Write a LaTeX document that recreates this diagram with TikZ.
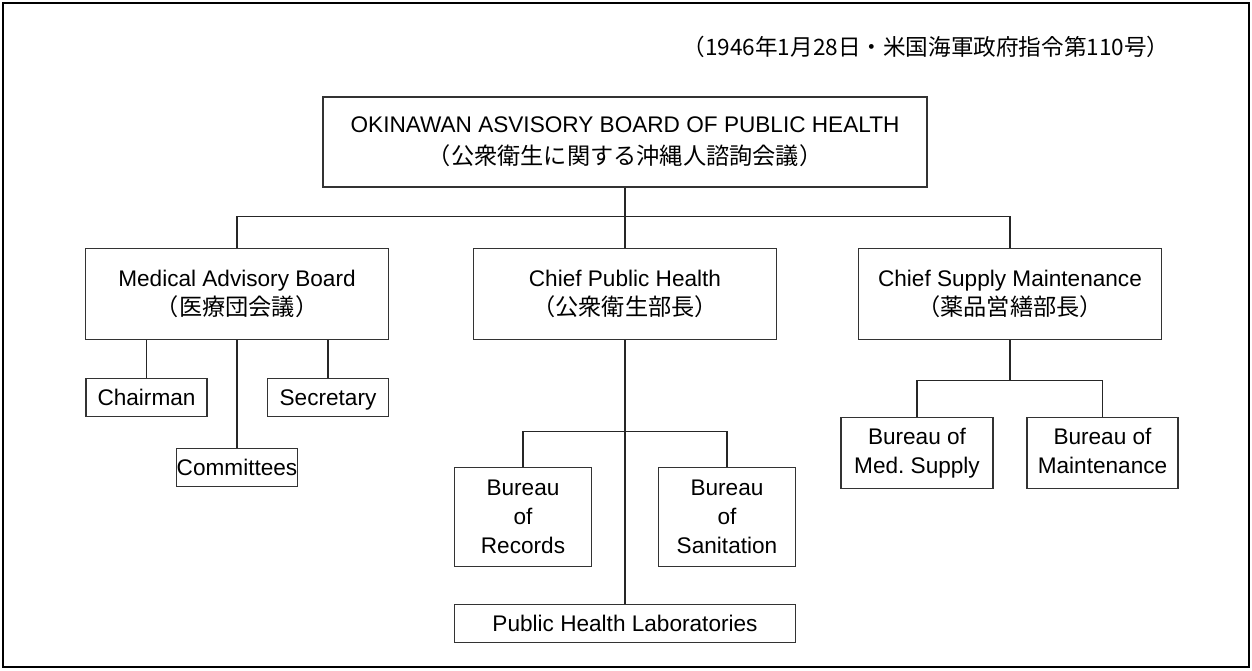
\documentclass[tikz,border=0pt]{standalone}
\usepackage{fontspec}
\setmainfont{Liberation Sans}
\newfontfamily\jpfont{Noto Sans CJK JP}
\usetikzlibrary{positioning}

\begin{document}
\begin{tikzpicture}[
    x=0.5pt, y=-0.5pt,
    node distance=76pt,
    box_head/.style={rectangle, draw=black!80, line width=0.8pt, align=center, inner sep=0pt, font=\fontsize{11.3}{14.5}\selectfont},
    box_main/.style={box_head, minimum width=151.5pt, minimum height=45.5pt},
    box_small/.style={box_head, minimum width=60.5pt, minimum height=19pt, text height=10pt, text depth=2pt},
    box_bureau/.style={box_head, minimum width=68.5pt, minimum height=49.5pt},
    box_supply/.style={box_head, minimum width=75.75pt, minimum height=35.5pt, text depth=2.4pt},
    line_link/.style={draw=black!85, line width=0.6pt},
    ]
\useasboundingbox (0,0) rectangle (1252,670);
\draw[line width=1.2pt] (3,3) rectangle (1249,667);

\node[box_head, minimum width=302pt, minimum height=45pt, font=\fontsize{11.3}{16}\selectfont] (okab) at (625,142) {OKINAWAN ASVISORY BOARD OF PUBLIC HEALTH\\{\jpfont\fontsize{11.6}{16}\selectfont （公衆衛生に関する沖縄人諮詢会議）}};
\node[font=\fontsize{11.3}{14}\selectfont\jpfont, above of=okab, xshift=150.5pt, yshift=-28.5pt] (order) {（1946年1月28日・米国海軍政府指令第110号）};

\node[box_main, below of=okab] (cph) {Chief Public Health\\{\jpfont\fontsize{11.6}{14.5}\selectfont （公衆衛生部長）}};
\node[box_main, left of=cph, xshift=-118pt] (mab) {Medical Advisory Board\\{\jpfont\fontsize{11.6}{14.5}\selectfont （医療団会議）}};
\node[box_main, right of=cph, xshift=116.5pt] (csm) {Chief Supply Maintenance\\{\jpfont\fontsize{11.6}{14.5}\selectfont （薬品営繕部長）}};

\node[box_small, below of=mab, yshift=-10.75pt] (comm) {Committees};
\node[box_small, below of=mab, xshift=-45.25pt, yshift=24.25pt] (chair) {Chairman};
\node[box_small, below of=mab, xshift=45.5pt, yshift=24.25pt] (secr) {Secretary};

\node[box_bureau, below of=cph, xshift=-51pt, yshift=-35.5pt] (rec) {Bureau\\of\\Records};
\node[box_bureau, right of=rec, xshift=26pt] (sanit) {Bureau\\of\\Sanitation};
\node[box_small, minimum width=170.5pt, below of=cph, yshift=-88.75pt] (lab) {Public Health Laboratories};

\node[box_supply, below of=csm, xshift=-46.5pt, yshift=-3.5pt] (medsup) {Bureau of\\Med.\ Supply};
\node[box_supply, right of=medsup, xshift=16.75pt] (maint) {Bureau of\\Maintenance};

\draw[line_link] (okab) -- (cph);
\draw[line_link] (mab.north) -- ++(0,-31.5) -| (csm.north);
\draw[line_link] (mab) -- (comm);
\draw[line_link] (chair) -- (chair |- mab.south);
\draw[line_link] (secr) -- (secr |- mab.south);
\draw[line_link] (cph) -- (lab);
\draw[line_link] (rec.north) -- ++(0,-35) -| (sanit.north);
\draw[line_link] (medsup.north) -- ++(0,-36) coordinate (supbar) -| (maint.north);
\draw[line_link] (csm) -- (csm |- supbar);

\end{tikzpicture}
\end{document}
